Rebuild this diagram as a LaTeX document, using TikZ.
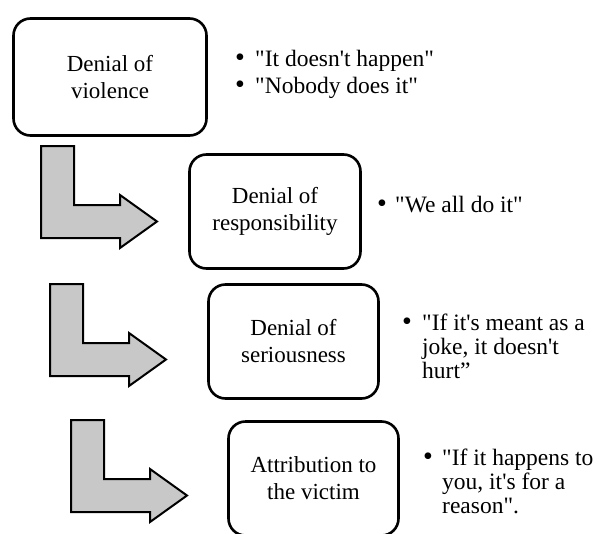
\documentclass[tikz,border=0pt]{standalone}
\usepackage{fontspec}
\setmainfont{Liberation Serif}[Ligatures=TeXOff]
\definecolor{arrowgray}{RGB}{200,200,200}
\begin{document}
\begin{tikzpicture}[x=1pt,y=-1pt,
  stagebox/.style={draw, line width=2.6pt, rounded corners=17pt, align=center,
    inner sep=0pt, font=\fontsize{23}{27}\selectfont},
  bentarrow/.style={draw, line width=2pt, fill=arrowgray, line join=miter},
  bul/.style={inner sep=0pt, anchor=base, font=\fontsize{28}{24}\selectfont},
  bultext/.style={inner sep=0pt, anchor=base west, font=\fontsize{23.5}{24}\selectfont}]
\clip (0,0) rectangle (605,533);
\fill[white] (0,0) rectangle (605,533);

% boxes
\node[stagebox, minimum width=193pt, minimum height=117pt] (b1) at (110,77) {Denial of\\violence};
\node[stagebox, minimum width=171pt, minimum height=114pt] (b2) at (275,211.5) {Denial of\\responsibility};
\node[stagebox, minimum width=170pt, minimum height=114pt] (b3) at (293.5,341.5) {Denial of\\seriousness};
\node[stagebox, minimum width=170pt, minimum height=114pt] (b4) at (313.5,478.5) {Attribution to\\the victim};

% bent arrows
\foreach \dx/\dy in {0/0, 9/138, 30/274}{
  \begin{scope}[shift={(\dx,\dy)}]
    \draw[bentarrow] (41,146) -- (74,146) -- (74,205) -- (120,205) -- (120,195)
      -- (157,221.5) -- (120,248) -- (120,238) -- (41,238) -- cycle;
  \end{scope}
}

% bullets
\node[bul] (d1) at (240,66) {•};
\node[bultext] (t1) at (255,66) {"It doesn't happen"};
\node[bul] (d2) at (240,93) {•};
\node[bultext] (t2) at (255,93) {"Nobody does it"};

\node[bul] (d3) at (382,212) {•};
\node[bultext] (t3) at (395,212) {"We all do it"};

\node[bul] (d4) at (407,330) {•};
\node[bultext] (t4) at (422,330) {\parbox[t]{180pt}{\fontsize{23.5}{24}\selectfont\raggedright "If it's meant as a\\joke, it doesn't\\hurt”}};

\node[bul] (d5) at (428,465) {•};
\node[bultext] (t5) at (442,465) {\parbox[t]{170pt}{\fontsize{23.5}{24}\selectfont\raggedright "If it happens to\\you, it's for a\\reason".}};
\end{tikzpicture}
\end{document}
